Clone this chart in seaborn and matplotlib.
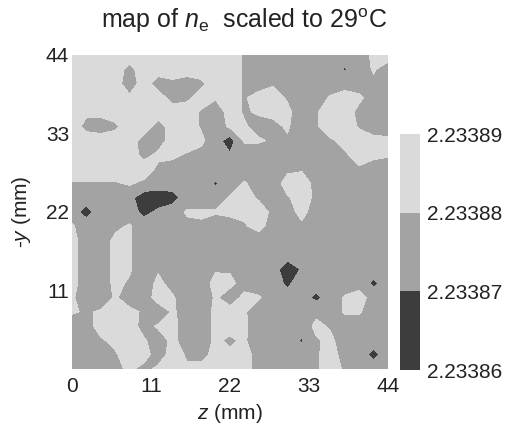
import numpy as np
import seaborn as sns
import matplotlib.pyplot as plt

# grid positions (mm)
z_mm = np.arange(0, 46, 2)
y_mm = np.arange(44, -2, -2)

# n_e offset above 2.23386, in units of 1e-6 (rows from y=44 down to y=0)
ne_rows = [
    [25,25,25,25,25,25,25,25,25,25,25,25,19,15,15,15,15,15,15,15,15,22,25],
    [25,25,25,25,17,25,25,25,25,25,25,25,19,15,15,15,15,15,15, 9,15,21,15],
    [25,25,25,25,14,25,15,18,15,18,25,25,19,15,19,15,15,15,15,15,15,18,15],
    [25,25,25,25,22,25,25,16,18,24,21,25,19,24,24,19,15,15,21,25,22,15,15],
    [25,22,23,25,25,25,25,25,25,19,14,24,19,21,22,22,15,19,25,25,17,15,15],
    [25,17,15,18,25,25,16,24,25,19,14,22,21,17,18,21,15,19,25,25,19,15,15],
    [25,25,25,25,25,16,15,25,25,22,14, 5,21,21,19,19,15,17,19,22,24,23,22],
    [25,25,25,25,25,17,22,22,19,17,14,11,15,15,15,15,15,15,15,19,23,22,21],
    [25,25,25,25,25,25,18,16,15,15,15,15,15,15,15,18,19,15,15,18,19,16,15],
    [19,19,19,19,21,18,15,15,15,15, 9,15,21,15,15,24,25,17,15,15,15,15,15],
    [14,15,15,15,13, 4, 4, 6,15,15,15,21,23,19,15,19,24,18,15,15,15,15,15],
    [15, 6,15,15,15, 7,12,15,21,21,21,22,22,24,18,16,23,15,15,15,15,15,15],
    [21,15,15,18,21,15,15,15,18,19,15,16,19,23,16,15,18,15,15,15,15,15,15],
    [22,17,15,22,21,15,15,15,15,15,15,15,15,15,15,15,15,15,15,15,15,15,15],
    [22,17,15,22,21,15,15,15,15,15,15,15,15,15,15,15,15,15,15,15,15,15,15],
    [22,17,15,22,21,15,19,15,15,15,19,19,15,15,15, 3,11,15,15,15,15,15,15],
    [22,17,15,22,19,15,22,17,15,15,23,22,17,15,15, 8,15,15,15,15,15, 8,15],
    [21,16,15,21,16,15,24,21,15,15,21,16,22,21,15,14,15, 7,15,21,25,15,15],
    [21,19,21,22,22,19,14,21,17,15,22,23,21,15,15,15,15,18,15,21,21,15,15],
    [15,17,23,24,24,17,21,23,15,15,22,22,21,17,15,15,15,22,19,15,15,15,15],
    [15,15,19,22,24,21,16,22,16,17,21,19,21,15,15,15, 9,19,22,15,15,15,15],
    [15,15,16,19,24,24,15,24,19,19,21,21,21,19,15,15,15,19,23,17,15, 7,15],
    [15,15,15,17,22,17,22,23,21,21,21,21,21,19,15,15,15,19,23,19,15,15,15],
]

levels = [2.23386, 2.23387, 2.23388, 2.23389]
level_labels = ["2.23386", "2.23387", "2.23388", "2.23389"]
gray_colors = ["#3d3d3d", "#a3a3a3", "#dadada"]
axis_ticks = [0, 11, 22, 33, 44]

sns.set_theme(style="white")
plt.rcParams["font.family"] = ["Liberation Sans", "DejaVu Sans"]
plt.rcParams["mathtext.fontset"] = "custom"
plt.rcParams["mathtext.rm"] = "Liberation Sans"
plt.rcParams["mathtext.it"] = "Liberation Sans:italic"

fig = plt.figure(figsize=(5.08, 4.25), dpi=100)
ax = fig.add_axes([0.1417, 0.1318, 0.622, 0.7388])

ne = 2.23386 + np.array(ne_rows) * 1e-6
cs = ax.contourf(z_mm, y_mm, ne, levels=levels, colors=gray_colors)

ax.set_xlim(0, 44)
ax.set_ylim(0, 44)
ax.set_xticks(axis_ticks)
ax.set_yticks(axis_ticks[1:])
ax.tick_params(length=0, labelsize=15, colors="#222222")
ax.tick_params(axis="x", pad=6)
ax.tick_params(axis="y", pad=2)
for s in ax.spines.values():
    s.set_visible(False)
ax.set_xlabel(r"$z$ (mm)", fontsize=15, color="#222222", labelpad=4)
ax.set_ylabel(r"-$y$ (mm)", fontsize=15, color="#222222", labelpad=9)
fig.text(0.48, 0.952, r"map of $n_{\rm e}$  scaled to 29$^{\rm o}$C",
         ha="center", va="center", fontsize=18, color="#222222")

cax = fig.add_axes([0.787, 0.1294, 0.0394, 0.5553])
cb = fig.colorbar(cs, cax=cax, ticks=levels)
cb.ax.set_yticklabels(level_labels)
cb.outline.set_visible(False)
cax.tick_params(length=0, labelsize=15, pad=5, colors="#222222")

fig.savefig("out.png", dpi=100)
